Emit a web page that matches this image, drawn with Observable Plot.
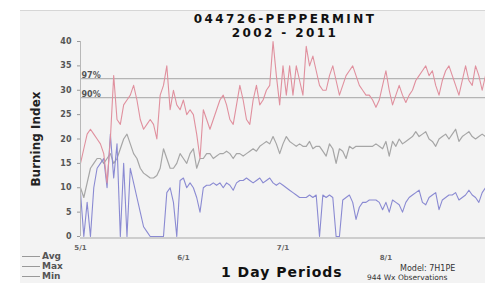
<!DOCTYPE html>
<html>
<head>
<meta charset="utf-8">
<script src="https://cdn.jsdelivr.net/npm/d3@7"></script>
<script src="https://cdn.jsdelivr.net/npm/@observablehq/plot@0.6"></script>
<style>
  html, body { margin: 0; padding: 0; }
  body { width: 485px; height: 283px; overflow: hidden; position: relative; background: #ffffff; font-family: "DejaVu Sans", sans-serif; }
  #panel { position: absolute; left: 20px; top: 10px; right: 0; bottom: 0; background: #f3f3f3; border-top: 1px solid #d6d6d6; }
  #chart { position: absolute; left: 0; top: 0; }
  .abs { position: absolute; white-space: nowrap; }
  .title { left: 175px; width: 220px; text-align: center; font-weight: bold; font-size: 12px; line-height: 14px; height: 14px; letter-spacing: 2.4px; color: #111; }
  #title1 { top: 12px; }
  #title2 { top: 26px; }
  #ylabel { left: 36px; top: 139px; transform: translate(-50%, -50%) rotate(-90deg); font-weight: bold; font-size: 12px; color: #222; }
  #xtitle { left: 221px; top: 264px; font-weight: bold; font-size: 14px; color: #111; letter-spacing: 1px; }
  #model { left: 400px; top: 264px; font-size: 8px; line-height: 9px; color: #333; }
  #obs { left: 367px; top: 273px; font-size: 7.5px; line-height: 9px; color: #333; }
  .leg { left: 22px; font-size: 9px; font-weight: bold; color: #555; display: flex; align-items: center; }
  .leg span.ln { display: inline-block; width: 18px; height: 0; border-top: 1px solid #999; margin-right: 2px; }
</style>
</head>
<body>
<div id="panel"></div>
<div id="chart"></div>
<div id="title1" class="abs title">044726-PEPPERMINT</div>
<div id="title2" class="abs title">2002 - 2011</div>
<div id="ylabel" class="abs">Burning Index</div>
<div id="xtitle" class="abs">1 Day Periods</div>
<div id="model" class="abs">Model: 7H1PE</div>
<div id="obs" class="abs">944 Wx Observations</div>
<div id="legend"></div>
<script>
// ---- data ----
const startDate = "2002-05-01";
const seriesNames = ["Avg", "Max", "Min"];
const maxBI = [15,18,21,22,21,20,19,17,11,20,33,24,23,27,28,29,31,28,24,22,23,24,23,20,29,31,35,26,30,27,26,28,25,26,25,21,16,26,24,22,24,26,28,29,27,24,23,27,31,28,24,23,28,31,27,28,30,31,40,33,27,35,29,35,29,35,32,29,39,35,37,34,31,30,30,33,35,32,29,31,33,34,35,33,31,30,29,29,28,26.5,28,31,34,30,27,29,31,29,27.5,29,30,32,33,34,35,33,34,31,29,32,34,35,33,31,29,32,35,32,31,35,33,30,33];
const avgBI = [10,8,11,14,15,16,16,15,16,17,15,16,18,20,21,19,17,16,14,13,12.5,12,12,12.5,14,18,16,14,14,15,17,16,15,17,18,14,16,16,17,17,16,16.5,17,17,17.5,17,16,17,17,16.5,17,17.5,18,17.5,18.5,19,19.5,19,20.5,19,17,19,20.5,19.5,19,18.5,19,18.5,18.5,19.5,18,18.5,18.5,17.5,16.5,19,18,15,18,17.5,16,18.5,18,18.5,18.5,18.5,18.5,18.5,18.5,19,18.5,18,19.5,16.5,19.5,18.5,20,19,19.5,20,20.5,21.5,20.5,21,21.5,20,19.5,18.5,20,20.5,21,20,21,22,19.5,20.5,21,21.5,20.5,20,20.5,21,20.5];
const minBI = [9,0,7,0,10,14,15,16,10,21,12,19,0,15,0,14,11,8,5,2,1,0,0,0,0,0,9,10,7,0,11.5,12,10,11,10,8,5,10,10.5,10.5,11,10.5,11,10,11,10.5,9.5,11,11.5,11.5,12,11.5,11,11.5,12,11,11.5,12,11,10.5,11,10.5,10,9.5,9,8.5,8,8,8,8.5,8,8.5,0,8.5,8,8.5,8,0,0,7.5,8,8.5,7,3.5,6,7,7,7.5,7.5,7.5,7,5.5,7,5,7.5,7,6.5,5,7,8,8.5,9,9.5,7,6.5,8,8.5,9,5.5,7.5,8,8.5,8.5,9,7.5,8,8.5,9.5,8.5,8,7,9,10];
const thresholdValues = [32.4, 28.5];
const thresholdLabels = ["97%", "90%"];
const tickDates = ["2002-05-01", "2002-06-01", "2002-07-01", "2002-08-01"];
const tickLabels = ["5/1", "6/1", "7/1", "8/1"];
const yTicks = [0, 5, 10, 15, 20, 25, 30, 35, 40];

// ---- build table ----
const start = new Date(startDate + "T00:00:00Z");
const dateAt = i => d3.utcDay.offset(start, i);
const rows = [];
[["Avg", avgBI], ["Max", maxBI], ["Min", minBI]].forEach(([name, arr]) => {
  arr.forEach((v, i) => rows.push({series: name, date: dateAt(i), value: v}));
});
const endDate = dateAt(maxBI.length - 1);
const ticks = tickDates.map(s => new Date(s + "T00:00:00Z"));
const labelOf = new Map(ticks.map((t, i) => [+t, tickLabels[i]]));
const thresholds = thresholdValues.map((v, i) => ({value: v, label: thresholdLabels[i], date: start}));
const colors = {Avg: "#a6a6a6", Max: "#e0909e", Min: "#8a8ad2"};

const chart = Plot.plot({
  width: 485,
  height: 283,
  marginLeft: 80,
  marginRight: 0,
  marginTop: 41,
  marginBottom: 47,
  style: {background: "transparent", fontFamily: "DejaVu Sans"},
  x: {type: "utc", domain: [start, endDate], axis: null},
  y: {domain: [0, 40], axis: null},
  marks: [
    Plot.ruleY(thresholds, {y: "value", stroke: "#b4b4b4", strokeWidth: 1.2}),
    Plot.text(thresholds, {x: "date", y: "value", text: "label", textAnchor: "start", dx: 1, dy: -3, fontSize: 8, fontWeight: "bold", fill: "#555"}),
    Plot.lineY(rows.filter(d => d.series === "Avg"), {x: "date", y: "value", stroke: colors.Avg, strokeWidth: 1.2}),
    Plot.lineY(rows.filter(d => d.series === "Min"), {x: "date", y: "value", stroke: colors.Min, strokeWidth: 1.1}),
    Plot.lineY(rows.filter(d => d.series === "Max"), {x: "date", y: "value", stroke: colors.Max, strokeWidth: 1.1}),
    Plot.ruleY([0], {stroke: "#a8a8a8", strokeWidth: 1.2, dy: 1.5}),
    Plot.ruleX([start], {stroke: "#b8b8b8", y1: 0, y2: 40}),
    Plot.axisY({ticks: yTicks, tickSize: 3, tickPadding: 6, fontSize: 8, fontWeight: "bold", fill: "#555", stroke: "#999", label: null}),
    Plot.axisX({ticks: [ticks[0], ticks[2]], tickFormat: d => labelOf.get(+d), tickSize: 0, tickPadding: 9, fontSize: 7, fontWeight: "bold", fill: "#666", label: null}),
    Plot.axisX({ticks: [ticks[1], ticks[3]], tickFormat: d => labelOf.get(+d), tickSize: 0, tickPadding: 19, fontSize: 7, fontWeight: "bold", fill: "#666", label: null})
  ]
});
document.getElementById("chart").appendChild(chart);

// legend
const legend = document.getElementById("legend");
const legendTops = {Avg: 251, Max: 261, Min: 271};
seriesNames.forEach(name => {
  const div = document.createElement("div");
  div.className = "abs leg";
  div.style.top = legendTops[name] + "px";
  div.innerHTML = `<span class="ln"></span>${name}`;
  legend.appendChild(div);
});
</script>
</body>
</html>
